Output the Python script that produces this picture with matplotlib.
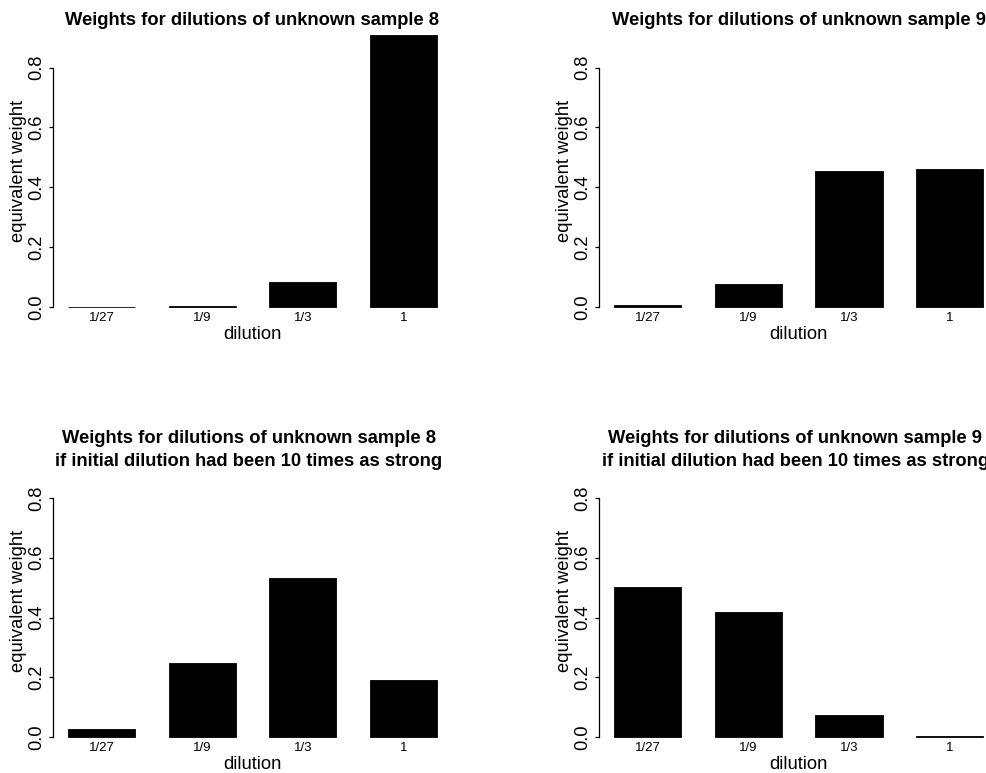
#!/usr/bin/env python3
"""Equivalent weights per dilution for unknown samples 8 and 9 (2x2 R-style barplots)."""

import matplotlib

matplotlib.use("Agg")
import matplotlib.pyplot as plt  # noqa: E402

plt.rcParams["font.family"] = ["Liberation Sans", "DejaVu Sans"]

dilutions = ["1/27", "1/9", "1/3", "1"]
weights_s8 = [0.001, 0.005, 0.084, 0.910]
weights_s9 = [0.006, 0.077, 0.455, 0.462]
weights_s8_strong = [0.027, 0.248, 0.533, 0.192]
weights_s9_strong = [0.501, 0.420, 0.073, 0.006]
y_ticks = [0.0, 0.2, 0.4, 0.6, 0.8]

title_s8 = "Weights for dilutions of unknown sample 8"
title_s9 = "Weights for dilutions of unknown sample 9"
title_extra = "if initial dilution had been 10 times as strong"

W, H = 987, 773
fig = plt.figure(figsize=(W / 100, H / 100), dpi=100)


def px_axes(left, top, right, bottom):
    return fig.add_axes([left / W, 1 - bottom / H, (right - left) / W, (bottom - top) / H])


def barpanel(ax, values):
    x = range(len(values))
    ax.bar(x, values, width=0.667, color="black", edgecolor="black", linewidth=0.6, clip_on=False)
    ymax = max(weights_s8)
    ax.set_xlim(-0.48, 3.48)
    ax.set_ylim(-0.04 * ymax, 1.04 * ymax)
    for side in ["top", "right", "bottom"]:
        ax.spines[side].set_visible(False)
    ax.spines["left"].set_bounds(0, 0.8)
    ax.spines["left"].set_linewidth(0.9)
    ax.set_yticks(y_ticks)
    ax.set_yticklabels([f"{t:.1f}" for t in y_ticks], rotation=90, va="center", fontsize=13.2)
    ax.tick_params(axis="y", length=3, width=0.9, pad=2.5)
    ax.set_xticks(list(x))
    ax.set_xticklabels(dilutions, fontsize=9.5)
    ax.tick_params(axis="x", length=0, pad=-4.5)
    ax.set_xlabel("dilution", fontsize=13.2)
    ax.xaxis.set_label_coords(0.5, -0.028)
    ax.set_ylabel("equivalent weight", fontsize=13.2)
    ax.yaxis.set_label_coords(-0.066, 0.5)


panels = [
    ((53.2, 23.8, 451.9, 317.9), weights_s8, [title_s8]),
    ((599.2, 23.8, 998.0, 317.9), weights_s9, [title_s9]),
    ((53.2, 454.0, 451.9, 748.2), weights_s8_strong, [title_s8, title_extra]),
    ((599.2, 454.0, 998.0, 748.2), weights_s9_strong, [title_s9, title_extra]),
]

for (left, top, right, bottom), values, titles in panels:
    ax = px_axes(left, top, right, bottom)
    barpanel(ax, values)
    cx = (left + right) / 2
    if top < 100:
        baselines = [25.0]
    else:
        baselines = [443.3, 465.7]
        cx -= 3.5
    for line, base in zip(titles, baselines):
        fig.text(cx / W, 1 - base / H, line, ha="center", va="baseline",
                 fontsize=13.2, fontweight="bold")

fig.savefig("out.png", dpi=100)
